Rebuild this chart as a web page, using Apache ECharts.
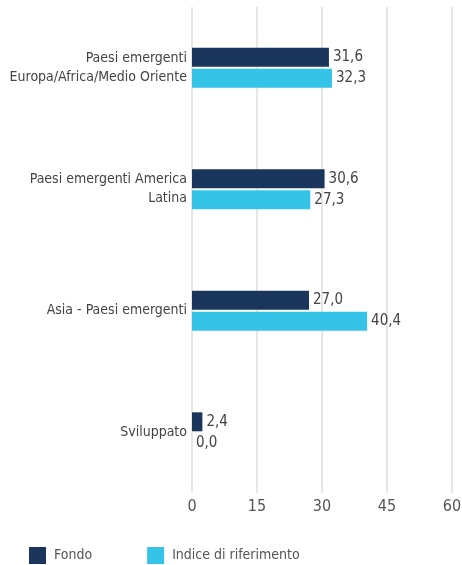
<!DOCTYPE html>
<html>
<head>
<meta charset="utf-8">
<script src="https://cdn.jsdelivr.net/npm/echarts@6/dist/echarts.min.js"></script>
<style>
  html, body { margin: 0; padding: 0; background: #fff; }
  #chart { width: 462px; height: 565px; }
</style>
</head>
<body>
<div id="chart"></div>
<script>
const categories = [
    "Paesi emergenti\nEuropa/Africa/Medio Oriente",
    "Paesi emergenti America\nLatina",
    "Asia - Paesi emergenti",
    "Sviluppato"
];
const fondo = [31.6, 30.6, 27.0, 2.4];
const indice = [32.3, 27.3, 40.4, 0.0];
const seriesNames = ["Fondo", "Indice di riferimento"];

const font = '"Liberation Sans Narrow", "DejaVu Sans Condensed", sans-serif';

var myChart = echarts.init(document.getElementById('chart'));

function fmt(p) {
    return p.value.toFixed(1).replace('.', ',');
}

option = {
    animation: false,
    textStyle: { fontFamily: font },
    grid: { left: 192, right: 10, top: 7, bottom: 72, outerBoundsMode: 'none', containLabel: false },
    xAxis: {
        type: 'value',
        min: 0,
        max: 60,
        interval: 15,
        axisLine: { show: false },
        axisTick: { show: false },
        splitLine: { lineStyle: { color: '#e8e6e3', width: 2 } },
        axisLabel: { color: '#555', fontSize: 16, fontFamily: font, margin: 6 }
    },
    yAxis: {
        type: 'category',
        data: categories,
        inverse: true,
        axisLine: { show: false },
        axisTick: { show: false },
        axisLabel: { color: '#444', fontSize: 14, fontFamily: font, margin: 5, lineHeight: 19, align: 'right' }
    },
    legend: {
        bottom: 1,
        left: 29,
        padding: 0,
        itemWidth: 17,
        itemHeight: 17,
        itemGap: 55,
        icon: 'rect',
        textStyle: { color: '#555', fontSize: 14, fontFamily: font, padding: [0, 0, 0, 3] },
        data: seriesNames
    },
    series: [
        {
            name: seriesNames[0],
            type: 'bar',
            data: fondo,
            barWidth: 19,
            barGap: '10%',
            itemStyle: { color: '#1b365d' },
            label: { show: true, position: 'right', distance: 4, formatter: fmt, color: '#444', fontSize: 15, fontFamily: font }
        },
        {
            name: seriesNames[1],
            type: 'bar',
            data: indice,
            barWidth: 19,
            itemStyle: { color: '#35c4e8' },
            label: { show: true, position: 'right', distance: 4, formatter: fmt, color: '#444', fontSize: 15, fontFamily: font }
        }
    ]
};
myChart.setOption(option);
</script>
</body>
</html>
